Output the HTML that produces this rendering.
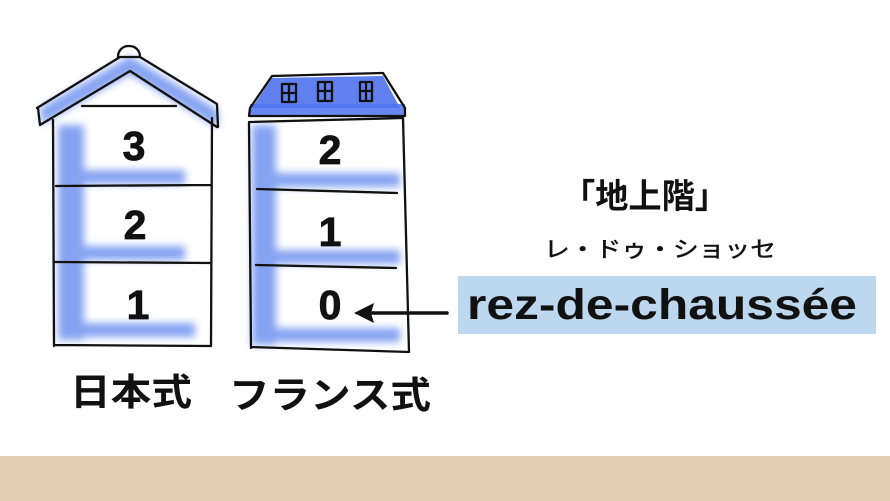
<!DOCTYPE html>
<html><head><meta charset="utf-8"><style>
html,body{margin:0;padding:0;background:#fff;width:890px;height:501px;overflow:hidden}
</style></head><body>
<svg width="890" height="501" viewBox="0 0 890 501" xmlns="http://www.w3.org/2000/svg" font-family="'Liberation Sans','Noto Sans CJK JP',sans-serif">
<defs><filter id="b" x="-20%" y="-20%" width="140%" height="140%"><feGaussianBlur stdDeviation="4"/></filter></defs>
<rect x="0" y="456" width="890" height="45" fill="#e2cbb2"/>
<g fill="#6f93f0" opacity="0.85" filter="url(#b)">
<rect x="58" y="125" width="26" height="215"/>
<rect x="60" y="170" width="125" height="14"/>
<rect x="60" y="246" width="125" height="14"/>
<rect x="60" y="323" width="135" height="14"/>
<rect x="252" y="125" width="24" height="220"/>
<rect x="255" y="173" width="145" height="14"/>
<rect x="255" y="250" width="145" height="14"/>
<rect x="255" y="328" width="145" height="14"/>
<polygon points="40,108 130,56 218,110 218,128 130,74 42,124"/>
</g>
<polygon points="272,78 383,76 400,108 252,108" fill="#4f72ee" opacity="0.9"/>
<rect x="250" y="104" width="155" height="12" fill="#4f72ee" opacity="0.85"/>
<g fill="none" stroke="#111" stroke-width="2.3" stroke-linecap="round" stroke-linejoin="round">
<path d="M53 120 L54 346 M212 118 L211 346 M54 345 L211 346 M56 186 L211 185 M55 262 L211 263"/>
<path d="M37 108 L120 57 L140 57 L217 104 L218 127 M40 125 L38 108 M40 125 L130 71 L217 127 M82 106 L176 106"/>
<path d="M118 57 C118 50 123 46 129 46 C135 46 140 50 140 57"/>
<path d="M249 122 L251 348 M403 118 L409 352 M251 347 L409 352 M257 189 L397 193 M256 265 L396 268"/>
<path d="M250 108 L272 76 L383 73 L405 108 L405 116 L249 116 Z M250 122 L403 118"/>
<rect x="282" y="84" width="14" height="18"/><rect x="318" y="82" width="14" height="19"/><rect x="360" y="82" width="12" height="19"/>
<path d="M289 84 L289 102 M282 93 L296 93 M325 82 L325 101 M318 91 L332 91 M366 82 L366 101 M360 91 L372 91"/>
<path d="M447 313 L365 313" stroke-width="3.5"/>
</g>
<polygon points="354,313 374,303 371,313 374,323" fill="#111"/>
<g font-weight="bold" font-size="41" fill="#111" text-anchor="middle" stroke="#111" stroke-width="0.8">
<text x="134" y="160">3</text><text x="135" y="239">2</text><text x="138" y="319">1</text>
<text x="330" y="164">2</text><text x="330" y="246">1</text><text x="330" y="319">0</text>
</g>
<rect x="458" y="276" width="418" height="58" fill="#bdd7ee"/>
<text x="467" y="319" font-size="43" font-weight="bold" fill="#111" textLength="390" lengthAdjust="spacingAndGlyphs">rez-de-chaussée</text>
<text x="562" y="208" font-size="34" font-weight="bold" fill="#111" textLength="166" lengthAdjust="spacingAndGlyphs">「地上階」</text>
<text x="544" y="257" font-size="22" fill="#111" stroke="#111" stroke-width="0.5" textLength="232" lengthAdjust="spacingAndGlyphs">レ・ドゥ・ショッセ</text>
<text x="70" y="405" font-size="37" font-weight="bold" fill="#111" textLength="122" lengthAdjust="spacingAndGlyphs">日本式</text>
<text x="229" y="408" font-size="37" font-weight="bold" fill="#111" textLength="202" lengthAdjust="spacingAndGlyphs">フランス式</text>
</svg>
</body></html>
